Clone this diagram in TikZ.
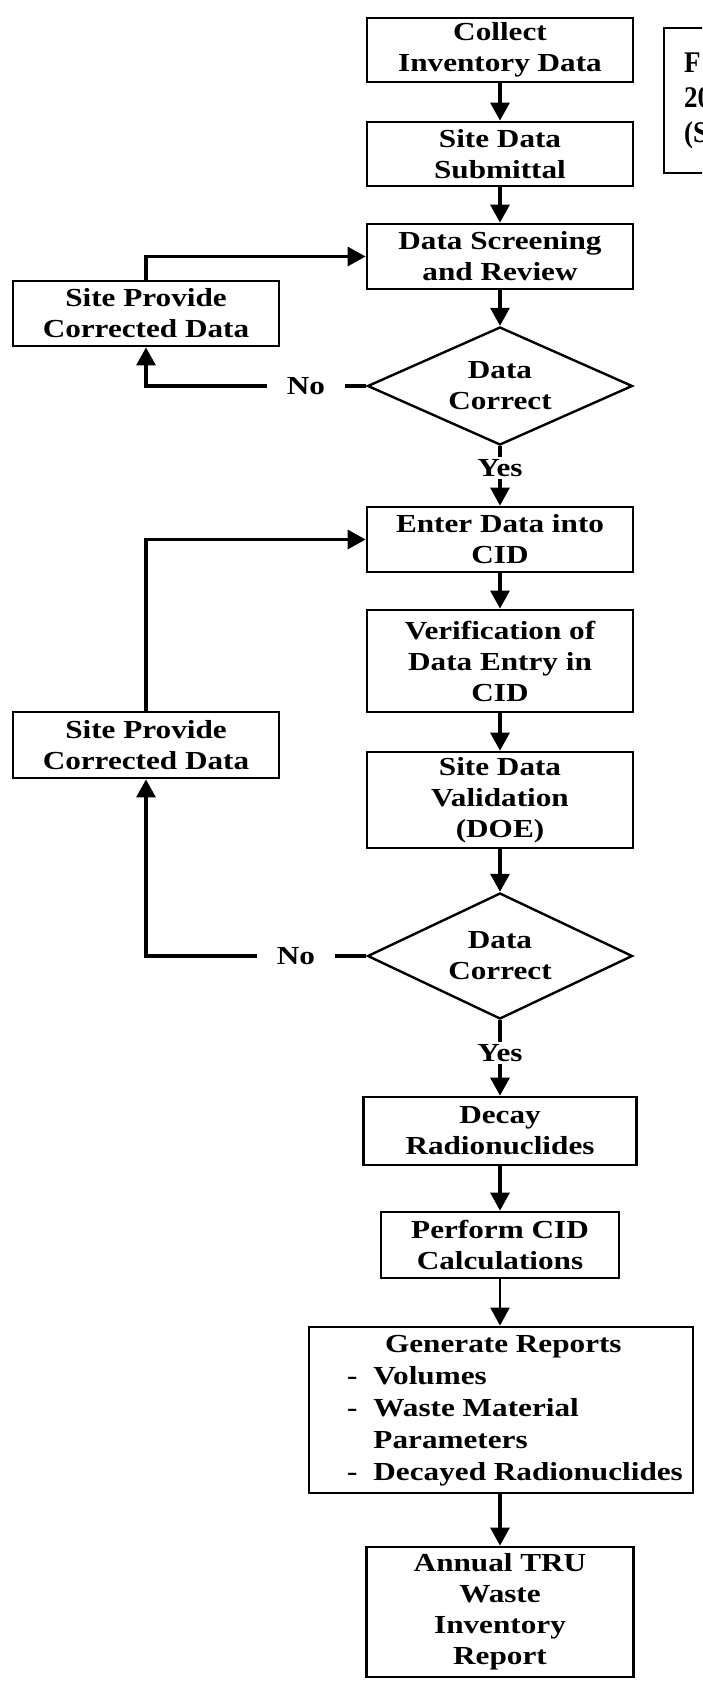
\documentclass[tikz,border=0pt]{standalone}
\usepackage{fontspec}
\setmainfont{Liberation Serif}[FakeStretch=1.2]
\newfontfamily\titlefont{Liberation Serif}[FakeStretch=0.9]
\usetikzlibrary{arrows.meta,shapes.geometric}
\tikzset{
	stepbox/.style={draw, line width=2.8pt, rectangle, minimum width=266pt, minimum height=65pt, inner sep=2pt, align=center, font=\bfseries\fontsize{26}{31}\selectfont},
	decision/.style={draw, line width=2.4pt, diamond, aspect=2.2, minimum width=265pt, minimum height=#1, inner sep=0pt, align=center, font=\bfseries\fontsize{26}{31}\selectfont},
	lbl/.style={inner xsep=20pt, inner ysep=2pt, font=\bfseries\fontsize{26}{31}\selectfont},
	arr/.style={line width=3.2pt, -{Triangle[width=19pt,length=18pt]}},
	link/.style={line width=3.2pt}
}

\begin{document}
\begin{tikzpicture}[x=1pt,y=-1pt]
				\clip (0,0) rectangle (702,1691);
				\fill[white] (0,0) rectangle (702,1691);
				
				\node[stepbox, minimum height=64pt] (collect) at (500,50) {Collect\\Inventory Data};
				\node[stepbox, minimum height=64pt] (submit) at (500,154) {Site Data\\Submittal};
				\node[stepbox] (screen) at (500,256.5) {Data Screening\\and Review};
				\node[stepbox] (fixone) at (146,313.5) {Site Provide\\Corrected Data};
				\node[decision=118pt] (checkone) at (500,386) {Data\\Correct};
				\node[lbl] (noone) at (306,386) {No};
				\node[lbl] (yesone) at (500,468) {Yes};
				
				\node[stepbox] (enter) at (500,539.5) {Enter Data into\\CID};
				\node[stepbox, minimum height=102pt] (verify) at (500,661) {Verification of\\Data Entry in\\CID};
				\node[stepbox, minimum height=66pt] (fixtwo) at (146,745) {Site Provide\\Corrected Data};
				\node[stepbox, minimum height=96pt] (valid) at (500,800) {Site Data\\Validation\\(DOE)};
				\node[decision=126pt] (checktwo) at (500,956) {Data\\Correct};
				\node[lbl] (notwo) at (296,956) {No};
				\node[lbl] (yestwo) at (500,1053) {Yes};
				
				\node[stepbox, minimum width=273pt, minimum height=68pt] (decay) at (500,1131) {Decay\\Radionuclides};
				\node[stepbox, minimum width=238pt, minimum height=66pt] (calc) at (500,1245) {Perform CID\\Calculations};
				\node[stepbox, minimum width=384pt, minimum height=166pt, font=\bfseries\fontsize{26}{32}\selectfont] (report) at (501,1410) {\hspace*{28pt}\begin{tabular}{@{}l@{\hspace{16pt}}l@{}}
					\multicolumn{2}{@{}l@{}}{\hspace*{38pt}Generate Reports}\\
					-&Volumes\\
					-&Waste Material\\
					&Parameters\\
					-&Decayed Radionuclides
				\end{tabular}};
				\node[stepbox, minimum width=267pt, minimum height=130pt] (annual) at (500,1612) {Annual TRU\\Waste\\Inventory\\Report};
				
				\node[draw, line width=2.4pt, anchor=north west, minimum height=145pt, text width=60pt, inner xsep=20pt, align=left, font=\titlefont\bfseries\fontsize{30}{35}\selectfont] (title) at (663,27) {F\\20\\(S};
				
				\draw[arr] (collect) -- (submit);
				\draw[arr] (submit) -- (screen);
				\draw[arr] (screen) -- (checkone);
				\draw[link] (checkone) -- (yesone);
				\draw[arr] (yesone) -- (enter);
				\draw[link] (checkone.west) -- (noone.east);
				\draw[arr] (noone.west) -| (fixone.south);
				\draw[arr] (fixone.north) |- (screen.west);
				
				\draw[arr] (enter) -- (verify);
				\draw[arr] (verify) -- (valid);
				\draw[arr] (valid) -- (checktwo);
				\draw[link] (checktwo) -- (yestwo);
				\draw[arr] (yestwo) -- (decay);
				\draw[link] (checktwo.west) -- (notwo.east);
				\draw[arr] (notwo.west) -| (fixtwo.south);
				\draw[arr] (fixtwo.north) |- (enter.west);
				
				\draw[arr] (decay) -- (calc);
				\draw[arr, line width=2pt] (calc) -- (report.north -| calc);
				\draw[arr] (report.south -| annual) -- (annual);
\end{tikzpicture}
\end{document}
